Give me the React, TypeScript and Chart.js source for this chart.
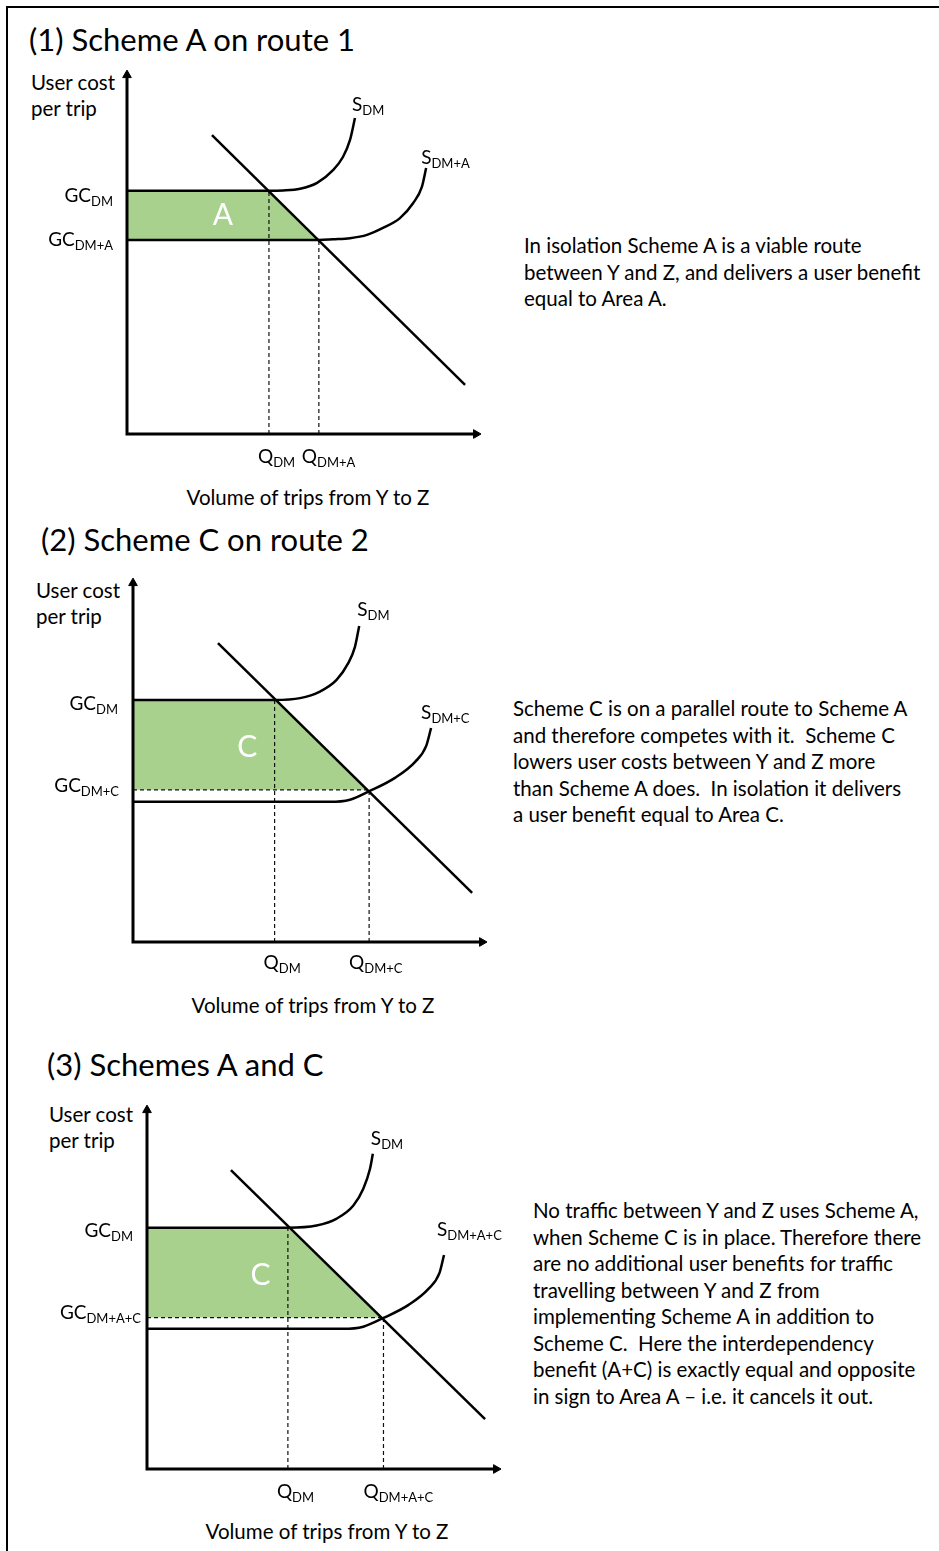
import React, { useEffect, useRef } from 'react';
import { Chart, registerables } from 'chart.js';

Chart.register(...registerables);

const GREEN = '#A9D18E';
const FONT = 'Lato, "Open Sans", sans-serif';

// Axis units: 0–100 along each axis (100 = arrow tip)
const axisX = [0, 0, 98.6];
const axisY = [98.6, 0, 0];

// ---------- Panel 1: Scheme A on route 1 ----------
const p1GcDm = 66.8;
const p1GcDmA = 53.3;
const p1QDm = 40.1;
const p1QDmA = 54.2;
const p1DemandX = [24.0, 95.5];
const p1DemandY = [82.1, 13.5];
const p1SdmX = [0, 40.1, 44.1, 48.9, 53.7, 58.2, 61.0, 63.0, 64.4];
const p1SdmY = [66.8, 66.8, 66.9, 67.4, 69.0, 72.5, 76.1, 80.8, 86.8];
const p1SdmAX = [0, 54.2, 58.2, 63.0, 67.8, 72.3, 77.1, 80.8, 83.3, 84.5];
const p1SdmAY = [53.3, 53.3, 53.5, 53.8, 54.7, 56.6, 59.3, 63.4, 67.9, 73.1];
const p1AreaX = [0, 40.1, 54.2];
const p1AreaY = [66.8, 66.8, 53.3];

// ---------- Panel 2: Scheme C on route 2 ----------
const p2GcDm = 66.5;
const p2GcDmC = 41.8;
const p2QDm = 40.0;
const p2QDmC = 66.7;
const p2DemandX = [24.0, 95.8];
const p2DemandY = [82.1, 13.5];
const p2SdmX = [0, 40.0, 47.2, 52.8, 57.5, 60.8, 62.7, 63.9];
const p2SdmY = [66.5, 66.5, 67.0, 68.8, 72.0, 76.6, 81.1, 86.8];
const p2SdmCX = [0, 55.6, 61.3, 66.9, 74.0, 79.7, 82.8, 84.2];
const p2SdmCY = [38.5, 38.5, 39.1, 41.5, 45.1, 49.5, 53.8, 58.8];
const p2AreaX = [0, 40.0, 66.4];
const p2AreaY = [66.5, 66.5, 41.8];

// ---------- Panel 3: Schemes A and C ----------
const p3GcDm = 66.3;
const p3GcDmAC = 41.6;
const p3QDm = 39.8;
const p3QDmAC = 66.8;
const p3DemandX = [23.7, 95.5];
const p3DemandY = [82.1, 13.7];
const p3SdmX = [0, 39.8, 47.9, 53.6, 58.3, 61.1, 63.0, 63.8];
const p3SdmY = [66.3, 66.3, 66.9, 68.8, 72.4, 77.0, 82.5, 86.6];
const p3SdmACX = [0, 55.4, 61.1, 66.8, 73.9, 79.5, 82.6, 83.9];
const p3SdmACY = [38.5, 38.5, 39.1, 41.5, 45.1, 49.5, 53.8, 58.8];
const p3AreaX = [0, 39.8, 66.4];
const p3AreaY = [66.3, 66.3, 41.6];

const titles = ['(1) Scheme A on route 1', '(2) Scheme C on route 2', '(3) Schemes A and C'];
const yAxisTitle = 'User cost\nper trip';
const xAxisTitle = 'Volume of trips from Y to Z';
const notes = [
  'In isolation Scheme A is a viable route\nbetween Y and Z, and delivers a user benefit\nequal to Area A.',
  'Scheme C is on a parallel route to Scheme A\nand therefore competes with it.  Scheme C\nlowers user costs between Y and Z more\nthan Scheme A does.  In isolation it delivers\na user benefit equal to Area C.',
  'No traffic between Y and Z uses Scheme A,\nwhen Scheme C is in place. Therefore there\nare no additional user benefits for traffic\ntravelling between Y and Z from\nimplementing Scheme A in addition to\nScheme C.  Here the interdependency\nbenefit (A+C) is exactly equal and opposite\nin sign to Area A \u2013 i.e. it cancels it out.',
];

type Lbl = {
  main: string;
  sub?: string;
  x: number;
  y: number;
  dx: number;
  dy: number;
  align: 'left' | 'right' | 'center';
  area?: boolean;
};

type Line = { x: number[]; y: number[]; smooth?: boolean };

type Spec = {
  area: { x: number[]; y: number[]; base: number };
  dashed: Line[];
  solid: Line[];
  labels: Lbl[];
};

const last = (a: number[]) => a[a.length - 1];

const spec1: Spec = {
  area: { x: p1AreaX, y: p1AreaY, base: p1GcDmA },
  dashed: [
    { x: [p1QDm, p1QDm], y: [0, p1GcDm] },
    { x: [p1QDmA, p1QDmA], y: [0, p1GcDmA] },
  ],
  solid: [
    { x: p1DemandX, y: p1DemandY },
    { x: p1SdmX, y: p1SdmY, smooth: true },
    { x: p1SdmAX, y: p1SdmAY, smooth: true },
  ],
  labels: [
    { main: 'GC', sub: 'DM', x: 0, y: p1GcDm, dx: -14, dy: 11, align: 'right' },
    { main: 'GC', sub: 'DM+A', x: 0, y: p1GcDmA, dx: -14, dy: 6, align: 'right' },
    { main: 'S', sub: 'DM', x: last(p1SdmX), y: last(p1SdmY), dx: -3, dy: -7, align: 'left' },
    { main: 'S', sub: 'DM+A', x: last(p1SdmAX), y: last(p1SdmAY), dx: -5, dy: -4, align: 'left' },
    { main: 'Q', sub: 'DM', x: p1QDm, y: 0, dx: -11, dy: 29, align: 'left' },
    { main: 'Q', sub: 'DM+A', x: p1QDmA, y: 0, dx: -17, dy: 29, align: 'left' },
    { main: 'A', x: 27.1, y: 60.4, dx: 0, dy: 11, align: 'center', area: true },
  ],
};

const spec2: Spec = {
  area: { x: p2AreaX, y: p2AreaY, base: p2GcDmC },
  dashed: [
    { x: [p2QDm, p2QDm], y: [0, p2GcDm] },
    { x: [p2QDmC, p2QDmC], y: [0, p2GcDmC] },
    { x: [0, p2QDmC], y: [p2GcDmC, p2GcDmC] },
  ],
  solid: [
    { x: p2DemandX, y: p2DemandY },
    { x: p2SdmX, y: p2SdmY, smooth: true },
    { x: p2SdmCX, y: p2SdmCY, smooth: true },
  ],
  labels: [
    { main: 'GC', sub: 'DM', x: 0, y: p2GcDm, dx: -15, dy: 10, align: 'right' },
    { main: 'GC', sub: 'DM+C', x: 0, y: p2GcDmC, dx: -14, dy: 2, align: 'right' },
    { main: 'S', sub: 'DM', x: last(p2SdmX), y: last(p2SdmY), dx: -2, dy: -10, align: 'left' },
    { main: 'S', sub: 'DM+C', x: last(p2SdmCX), y: last(p2SdmCY), dx: -10, dy: -9, align: 'left' },
    { main: 'Q', sub: 'DM', x: p2QDm, y: 0, dx: -11, dy: 27, align: 'left' },
    { main: 'Q', sub: 'DM+C', x: p2QDmC, y: 0, dx: -20, dy: 27, align: 'left' },
    { main: 'C', x: 32.3, y: 53.8, dx: 0, dy: 11, align: 'center', area: true },
  ],
};

const spec3: Spec = {
  area: { x: p3AreaX, y: p3AreaY, base: p3GcDmAC },
  dashed: [
    { x: [p3QDm, p3QDm], y: [0, p3GcDm] },
    { x: [p3QDmAC, p3QDmAC], y: [0, p3GcDmAC] },
    { x: [0, p3QDmAC], y: [p3GcDmAC, p3GcDmAC] },
  ],
  solid: [
    { x: p3DemandX, y: p3DemandY },
    { x: p3SdmX, y: p3SdmY, smooth: true },
    { x: p3SdmACX, y: p3SdmACY, smooth: true },
  ],
  labels: [
    { main: 'GC', sub: 'DM', x: 0, y: p3GcDm, dx: -14, dy: 9, align: 'right' },
    { main: 'GC', sub: 'DM+A+C', x: 0, y: p3GcDmAC, dx: -6, dy: 1, align: 'right' },
    { main: 'S', sub: 'DM', x: last(p3SdmX), y: last(p3SdmY), dx: -2, dy: -9, align: 'left' },
    { main: 'S', sub: 'DM+A+C', x: last(p3SdmACX), y: last(p3SdmACY), dx: -7, dy: -19, align: 'left' },
    { main: 'Q', sub: 'DM', x: p3QDm, y: 0, dx: -11, dy: 29, align: 'left' },
    { main: 'Q', sub: 'DM+A+C', x: p3QDmAC, y: 0, dx: -20, dy: 29, align: 'left' },
    { main: 'C', x: 32.1, y: 53.6, dx: 0, dy: 11, align: 'center', area: true },
  ],
};

const pts = (xs: number[], ys: number[]) => xs.map((x, i) => ({ x, y: ys[i] }));

const MAIN_FONT = `19px ${FONT}`;
const SUB_FONT = `13px ${FONT}`;
const AREA_FONT = `30px ${FONT}`;

function Diagram({ spec, left, top }: { spec: Spec; left: number; top: number }) {
  const ref = useRef<HTMLCanvasElement | null>(null);
  useEffect(() => {
    if (!ref.current) return;
    const labelPlugin = {
      id: 'econLabels',
      afterDatasetsDraw(chart: any) {
        const { ctx } = chart;
        const xs = chart.scales.x;
        const ys = chart.scales.y;
        ctx.save();
        for (const l of spec.labels) {
          const px = xs.getPixelForValue(l.x) + l.dx;
          const py = ys.getPixelForValue(l.y) + l.dy;
          ctx.textBaseline = 'alphabetic';
          ctx.textAlign = 'left';
          if (l.area) {
            ctx.font = AREA_FONT;
            ctx.fillStyle = '#ffffff';
            ctx.textAlign = 'center';
            ctx.fillText(l.main, px, py);
            continue;
          }
          ctx.fillStyle = '#000000';
          ctx.font = MAIN_FONT;
          const wm = ctx.measureText(l.main).width;
          ctx.font = SUB_FONT;
          const ws = l.sub ? ctx.measureText(l.sub).width : 0;
          let x0 = px;
          if (l.align === 'right') x0 = px - wm - ws;
          else if (l.align === 'center') x0 = px - (wm + ws) / 2;
          ctx.font = MAIN_FONT;
          ctx.fillText(l.main, x0, py);
          if (l.sub) {
            ctx.font = SUB_FONT;
            ctx.fillText(l.sub, x0 + wm, py + 4);
          }
        }
        ctx.restore();
      },
    };

    const datasets: any[] = [
      {
        data: pts(spec.area.x, spec.area.y),
        showLine: true,
        fill: { value: spec.area.base },
        backgroundColor: GREEN,
        borderColor: 'rgba(0,0,0,0)',
        borderWidth: 0,
        pointRadius: 0,
        order: 10,
        clip: false,
      },
      ...spec.dashed.map((d) => ({
        data: pts(d.x, d.y),
        showLine: true,
        fill: false,
        borderColor: '#111111',
        borderWidth: 1.2,
        borderDash: [4, 3],
        pointRadius: 0,
        order: 5,
        clip: false,
      })),
      ...spec.solid.map((s) => ({
        data: pts(s.x, s.y),
        showLine: true,
        fill: false,
        borderColor: '#000000',
        borderWidth: 2.5,
        tension: 0,
        cubicInterpolationMode: s.smooth ? 'monotone' : 'default',
        pointRadius: 0,
        order: 2,
        clip: false,
      })),
      {
        data: pts(axisX, axisY),
        showLine: true,
        fill: false,
        borderColor: '#000000',
        borderWidth: 3,
        borderJoinStyle: 'miter',
        pointStyle: 'triangle',
        pointRadius: [5, 0, 5],
        rotation: [0, 0, 90],
        pointBackgroundColor: '#000000',
        pointBorderColor: '#000000',
        pointBorderWidth: 1,
        order: 1,
        clip: false,
      },
    ];

    const chart = new Chart(ref.current, {
      type: 'scatter',
      data: { datasets },
      options: {
        animation: false,
        responsive: false,
        devicePixelRatio: 1,
        events: [],
        layout: { padding: { left: 117, top: 10, right: 29, bottom: 46 } },
        scales: {
          x: { type: 'linear', min: 0, max: 100, display: false },
          y: { type: 'linear', min: 0, max: 100, display: false },
        },
        plugins: { legend: { display: false }, tooltip: { enabled: false } },
      } as any,
      plugins: [labelPlugin as any],
    });
    return () => chart.destroy();
  }, [spec]);
  return (
    <canvas
      ref={ref}
      width={500}
      height={420}
      style={{ position: 'absolute', left, top, width: 500, height: 420 }}
    />
  );
}

const textBase: React.CSSProperties = {
  position: 'absolute',
  fontFamily: FONT,
  color: '#000',
  whiteSpace: 'pre',
  margin: 0,
};

export default function App() {
  // panel anchors: canvas top-left and text positions
  const panels = [
    { spec: spec1, cx: 10, cy: 60, title: [29, 21], ytitle: [31, 69], xtitle: [308, 484], note: [524, 232] },
    { spec: spec2, cx: 16, cy: 568, title: [41, 521], ytitle: [36, 577], xtitle: [313, 992], note: [513, 695] },
    { spec: spec3, cx: 30, cy: 1095, title: [47, 1046], ytitle: [49, 1101], xtitle: [327, 1518], note: [533, 1197] },
  ];
  return (
    <div
      style={{
        position: 'absolute',
        left: 0,
        top: 0,
        width: 939,
        height: 1551,
        background: '#ffffff',
        overflow: 'hidden',
      }}
    >
      <div
        style={{
          position: 'absolute',
          left: 6,
          top: 6,
          width: 960,
          height: 1600,
          borderTop: '2px solid #000',
          borderLeft: '2px solid #000',
        }}
      />
      {panels.map((p, i) => (
        <React.Fragment key={i}>
          <div style={{ ...textBase, left: p.title[0], top: p.title[1], fontSize: 31, lineHeight: '36px' }}>
            {titles[i]}
          </div>
          <div style={{ ...textBase, left: p.ytitle[0], top: p.ytitle[1], fontSize: 20.5, lineHeight: '26px' }}>
            {yAxisTitle}
          </div>
          <div
            style={{
              ...textBase,
              left: p.xtitle[0] - 200,
              top: p.xtitle[1],
              width: 400,
              textAlign: 'center',
              fontSize: 20.5,
              lineHeight: '26px',
            }}
          >
            {xAxisTitle}
          </div>
          <div style={{ ...textBase, left: p.note[0], top: p.note[1], fontSize: 20.5, lineHeight: '26.5px' }}>
            {notes[i]}
          </div>
          <Diagram spec={p.spec} left={p.cx} top={p.cy} />
        </React.Fragment>
      ))}
    </div>
  );
}
